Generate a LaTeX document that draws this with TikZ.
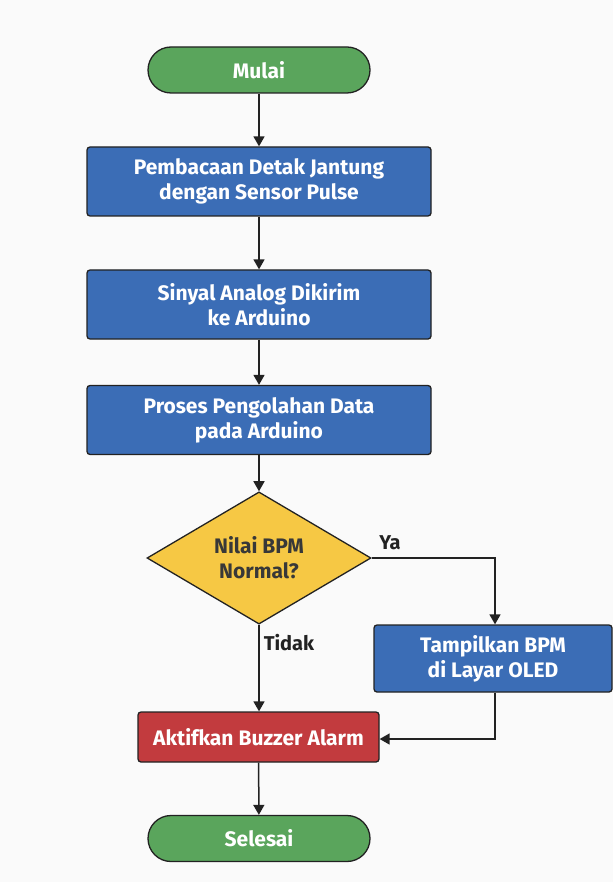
\documentclass[tikz,border=0pt]{standalone}
\usepackage{fontspec}
\setmainfont{Fira Sans}
\usetikzlibrary{shapes.geometric,arrows.meta}
\definecolor{bg}{HTML}{FAFAFA}
\definecolor{gfill}{HTML}{5AA55C}
\definecolor{bfill}{HTML}{3B6DB6}
\definecolor{yfill}{HTML}{F6C844}
\definecolor{rfill}{HTML}{C23B3E}
\definecolor{edge}{HTML}{222222}
\tikzset{
  base/.style={draw=edge, line width=1.3pt, text=white, font=\bfseries\fontsize{21}{25}\selectfont, align=center, inner sep=0pt},
  term/.style={base, fill=gfill, rounded corners=23pt, minimum width=222pt, minimum height=46pt},
  proc/.style={base, fill=bfill, rounded corners=3pt, minimum width=344pt, minimum height=69pt},
  dec/.style={base, fill=yfill, text=edge!90, diamond, inner sep=0pt, minimum width=224pt, minimum height=124pt},
  alarm/.style={base, fill=rfill, rounded corners=3pt, minimum width=241pt, minimum height=50pt},
  conn/.style={draw=edge, line width=1.5pt, -{Triangle[length=10pt,width=11pt]}},
  lbl/.style={text=edge, font=\bfseries\fontsize{20}{24}\selectfont}
}
\begin{document}
\begin{tikzpicture}[x=1pt,y=-1pt]
\fill[bg] (0,0) rectangle (613,882);
\useasboundingbox (0,0) rectangle (613,882);
\node[term] (start) at (259,70) {Mulai};
\node[proc] (p1) at (259,181.5) {Pembacaan Detak Jantung\\dengan Sensor Pulse};
\node[proc] (p2) at (259,304.5) {Sinyal Analog Dikirim\\ke Arduino};
\node[proc] (p3) at (259,420) {Proses Pengolahan Data\\pada Arduino};
\node[dec] (d) at (259,558) {Nilai BPM\\Normal?};
\node[proc, minimum width=238pt, minimum height=67pt] (show) at (493,658.5) {Tampilkan BPM\\di Layar OLED};
\node[alarm] (alarm) at (258.5,737) {Aktifkan Buzzer Alarm};
\node[term] (end) at (259,838.5) {Selesai};
\coordinate (c1) at (495,558);
\coordinate (c2) at (495,739);
\draw[conn] (start) -- (p1);
\draw[conn] (p1) -- (p2);
\draw[conn] (p2) -- (p3);
\draw[conn] (p3) -- (d);
\draw[conn] (d.east) -- (c1) -- (show.north -| c1);
\draw[conn] (d.south) -- (alarm.north -| d.south);
\draw[conn] (show.south -| c2) -- (c2) -- (alarm.east |- c2);
\draw[conn] (alarm) -- (end);
\node[lbl] (ya) at (390,543) {Ya};
\node[lbl] (tidak) at (289,643) {Tidak};
\end{tikzpicture}
\end{document}
